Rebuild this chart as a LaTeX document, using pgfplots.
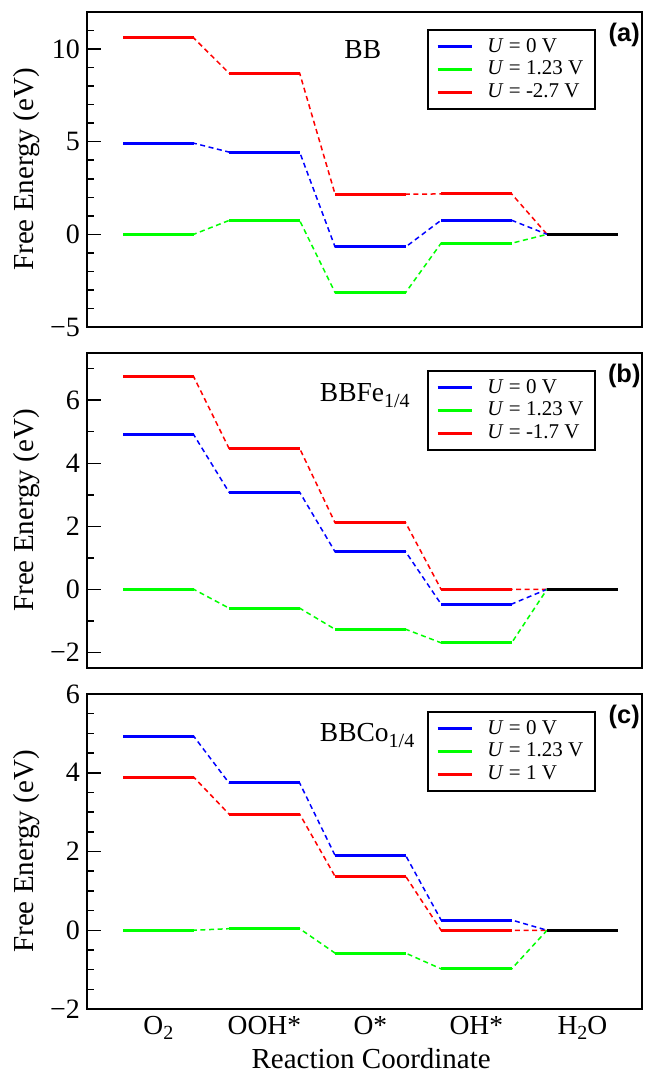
\documentclass[border=0pt]{standalone}
\usepackage{fontspec}
\setmainfont{Liberation Serif}
\newfontfamily\sansbf{Liberation Sans}
\usepackage{pgfplots}
\pgfplotsset{compat=1.18}
\definecolor{cblue}{RGB}{0,0,255}
\definecolor{cgreen}{RGB}{0,255,0}
\definecolor{cred}{RGB}{255,0,0}
\newcommand{\sub}[1]{\raisebox{-0.45ex}{\fontsize{10}{11}\selectfont #1}}
\pgfplotsset{
  panel/.style={
    scale only axis, width=277.5pt, height=157.5pt,
    xmin=0.327, xmax=5.5625,
    axis line style={line width=0.75pt},
    tick style={line width=0.75pt, black},
    ytick pos=left, tick align=inside,
    major tick length=7pt, minor tick length=3.5pt,
    xtick=\empty,
    yticklabel style={font=\fontsize{14}{15}\selectfont},
    xticklabel style={font=\fontsize{13.75}{15}\selectfont},
    ylabel={Free Energy (eV)},
    every axis y label/.style={at={(axis description cs:-0.108,0.5)}, rotate=90, anchor=center, font=\fontsize{14.5}{16}\selectfont},
    unbounded coords=jump,
    legend style={at={(0.917,0.945)}, anchor=north east, draw=black, line width=0.75pt,
      font=\fontsize{10.5}{12}\selectfont, row sep=-1pt, column sep=5pt, inner xsep=4pt, inner ysep=2pt},
    legend cell align=left,
  },
  lvl/.style={line width=1.5pt},
  con/.style={line width=0.75pt, dash pattern=on 2.5pt off 1.8pt},
  limg/.style={line width=1.5pt},
}
\begin{document}
\begin{tikzpicture}
\useasboundingbox (0,0) rectangle (325pt,-537pt);
% ---------------- (a)
\begin{axis}[panel, at={(43.5pt,-6pt)}, anchor=north west,
  ymin=-5, ymax=12, ytick={-5,0,5,10}, yticklabels={−5,0,5,10},
  minor ytick={-4,-3,-2,-1,1,2,3,4,6,7,8,9,11}]
\addlegendimage{cblue, limg}\addlegendentry{\textit{U} = 0 V}
\addlegendimage{cgreen, limg}\addlegendentry{\textit{U} = 1.23 V}
\addlegendimage{cred, limg}\addlegendentry{\textit{U} = -2.7 V}
\addplot[cred, con, forget plot] coordinates {(0.667,10.60) (1.333,10.60) (1.667,8.70) (2.333,8.70) (2.667,2.17) (3.333,2.17) (3.667,2.18) (4.333,2.18) (4.667,0)};
\addplot[cblue, con, forget plot] coordinates {(0.667,4.92) (1.333,4.92) (1.667,4.44) (2.333,4.44) (2.667,-0.68) (3.333,-0.68) (3.667,0.76) (4.333,0.76) (4.667,0)};
\addplot[cgreen, con, forget plot] coordinates {(0.667,0) (1.333,0) (1.667,0.75) (2.333,0.75) (2.667,-3.14) (3.333,-3.14) (3.667,-0.48) (4.333,-0.48) (4.667,0)};
\addplot[cred, lvl, forget plot] coordinates {(0.667,10.60) (1.333,10.60) (1.5,nan) (1.667,8.70) (2.333,8.70) (2.5,nan) (2.667,2.17) (3.333,2.17) (3.5,nan) (3.667,2.18) (4.333,2.18)};
\addplot[cblue, lvl, forget plot] coordinates {(0.667,4.92) (1.333,4.92) (1.5,nan) (1.667,4.44) (2.333,4.44) (2.5,nan) (2.667,-0.68) (3.333,-0.68) (3.5,nan) (3.667,0.76) (4.333,0.76)};
\addplot[cgreen, lvl, forget plot] coordinates {(0.667,0) (1.333,0) (1.5,nan) (1.667,0.75) (2.333,0.75) (2.5,nan) (2.667,-3.14) (3.333,-3.14) (3.5,nan) (3.667,-0.48) (4.333,-0.48)};
\addplot[black, lvl, forget plot] coordinates {(4.667,0) (5.333,0)};
\node[anchor=base, font=\fontsize{13.75}{14}\selectfont] at (rel axis cs:0.497,0.853) {BB};
\node[font=\sansbf\bfseries\fontsize{12.7}{14}\selectfont] at (rel axis cs:0.968,0.927) {(a)};
\end{axis}
% ---------------- (b)
\begin{axis}[panel, at={(43.5pt,-176.5pt)}, anchor=north west,
  ymin=-2.5, ymax=7.5, ytick={-2,0,2,4,6}, yticklabels={−2,0,2,4,6},
  minor ytick={-1,1,3,5,7}]
\addlegendimage{cblue, limg}\addlegendentry{\textit{U} = 0 V}
\addlegendimage{cgreen, limg}\addlegendentry{\textit{U} = 1.23 V}
\addlegendimage{cred, limg}\addlegendentry{\textit{U} = -1.7 V}
\addplot[cred, con, forget plot] coordinates {(0.667,6.75) (1.333,6.75) (1.667,4.47) (2.333,4.47) (2.667,2.11) (3.333,2.11) (3.667,0) (4.333,0) (4.667,0)};
\addplot[cblue, con, forget plot] coordinates {(0.667,4.91) (1.333,4.91) (1.667,3.08) (2.333,3.08) (2.667,1.19) (3.333,1.19) (3.667,-0.47) (4.333,-0.47) (4.667,0)};
\addplot[cgreen, con, forget plot] coordinates {(0.667,0) (1.333,0) (1.667,-0.60) (2.333,-0.60) (2.667,-1.27) (3.333,-1.27) (3.667,-1.70) (4.333,-1.70) (4.667,0)};
\addplot[cred, lvl, forget plot] coordinates {(0.667,6.75) (1.333,6.75) (1.5,nan) (1.667,4.47) (2.333,4.47) (2.5,nan) (2.667,2.11) (3.333,2.11) (3.5,nan) (3.667,0) (4.333,0)};
\addplot[cblue, lvl, forget plot] coordinates {(0.667,4.91) (1.333,4.91) (1.5,nan) (1.667,3.08) (2.333,3.08) (2.5,nan) (2.667,1.19) (3.333,1.19) (3.5,nan) (3.667,-0.47) (4.333,-0.47)};
\addplot[cgreen, lvl, forget plot] coordinates {(0.667,0) (1.333,0) (1.5,nan) (1.667,-0.60) (2.333,-0.60) (2.5,nan) (2.667,-1.27) (3.333,-1.27) (3.5,nan) (3.667,-1.70) (4.333,-1.70)};
\addplot[black, lvl, forget plot] coordinates {(4.667,0) (5.333,0)};
\node[anchor=base west, font=\fontsize{13.75}{14}\selectfont] at (rel axis cs:0.407,0.845) {BBFe\sub{1/4}};
\node[font=\sansbf\bfseries\fontsize{12.7}{14}\selectfont] at (rel axis cs:0.968,0.927) {(b)};
\end{axis}
% ---------------- (c)
\begin{axis}[panel, at={(43.5pt,-347pt)}, anchor=north west,
  ymin=-2, ymax=6, ytick={-2,0,2,4,6}, yticklabels={−2,0,2,4,6},
  minor ytick={-1.5,-1,-0.5,0.5,1,1.5,2.5,3,3.5,4.5,5,5.5},
  xtick={1,2,3,4,5}, xticklabels={O\sub{2},OOH*,O*,OH*,H\sub{2}O},
  xtick style={draw=none},
  xlabel={Reaction Coordinate},
  every axis x label/.style={at={(axis description cs:0.512,-0.19)}, anchor=base, font=\fontsize{14.5}{16}\selectfont}]
\addlegendimage{cblue, limg}\addlegendentry{\textit{U} = 0 V}
\addlegendimage{cgreen, limg}\addlegendentry{\textit{U} = 1.23 V}
\addlegendimage{cred, limg}\addlegendentry{\textit{U} = 1 V}
\addplot[cred, con, forget plot] coordinates {(0.667,3.89) (1.333,3.89) (1.667,2.95) (2.333,2.95) (2.667,1.37) (3.333,1.37) (3.667,0) (4.333,0) (4.667,0)};
\addplot[cblue, con, forget plot] coordinates {(0.667,4.93) (1.333,4.93) (1.667,3.74) (2.333,3.74) (2.667,1.90) (3.333,1.90) (3.667,0.26) (4.333,0.26) (4.667,0)};
\addplot[cgreen, con, forget plot] coordinates {(0.667,0) (1.333,0) (1.667,0.04) (2.333,0.04) (2.667,-0.58) (3.333,-0.58) (3.667,-0.98) (4.333,-0.98) (4.667,0)};
\addplot[cred, lvl, forget plot] coordinates {(0.667,3.89) (1.333,3.89) (1.5,nan) (1.667,2.95) (2.333,2.95) (2.5,nan) (2.667,1.37) (3.333,1.37) (3.5,nan) (3.667,0) (4.333,0)};
\addplot[cblue, lvl, forget plot] coordinates {(0.667,4.93) (1.333,4.93) (1.5,nan) (1.667,3.74) (2.333,3.74) (2.5,nan) (2.667,1.90) (3.333,1.90) (3.5,nan) (3.667,0.26) (4.333,0.26)};
\addplot[cgreen, lvl, forget plot] coordinates {(0.667,0) (1.333,0) (1.5,nan) (1.667,0.04) (2.333,0.04) (2.5,nan) (2.667,-0.58) (3.333,-0.58) (3.5,nan) (3.667,-0.98) (4.333,-0.98)};
\addplot[black, lvl, forget plot] coordinates {(4.667,0) (5.333,0)};
\node[anchor=base west, font=\fontsize{13.75}{14}\selectfont] at (rel axis cs:0.407,0.849) {BBCo\sub{1/4}};
\node[font=\sansbf\bfseries\fontsize{12.7}{14}\selectfont] at (rel axis cs:0.968,0.927) {(c)};
\end{axis}
\end{tikzpicture}
\end{document}
